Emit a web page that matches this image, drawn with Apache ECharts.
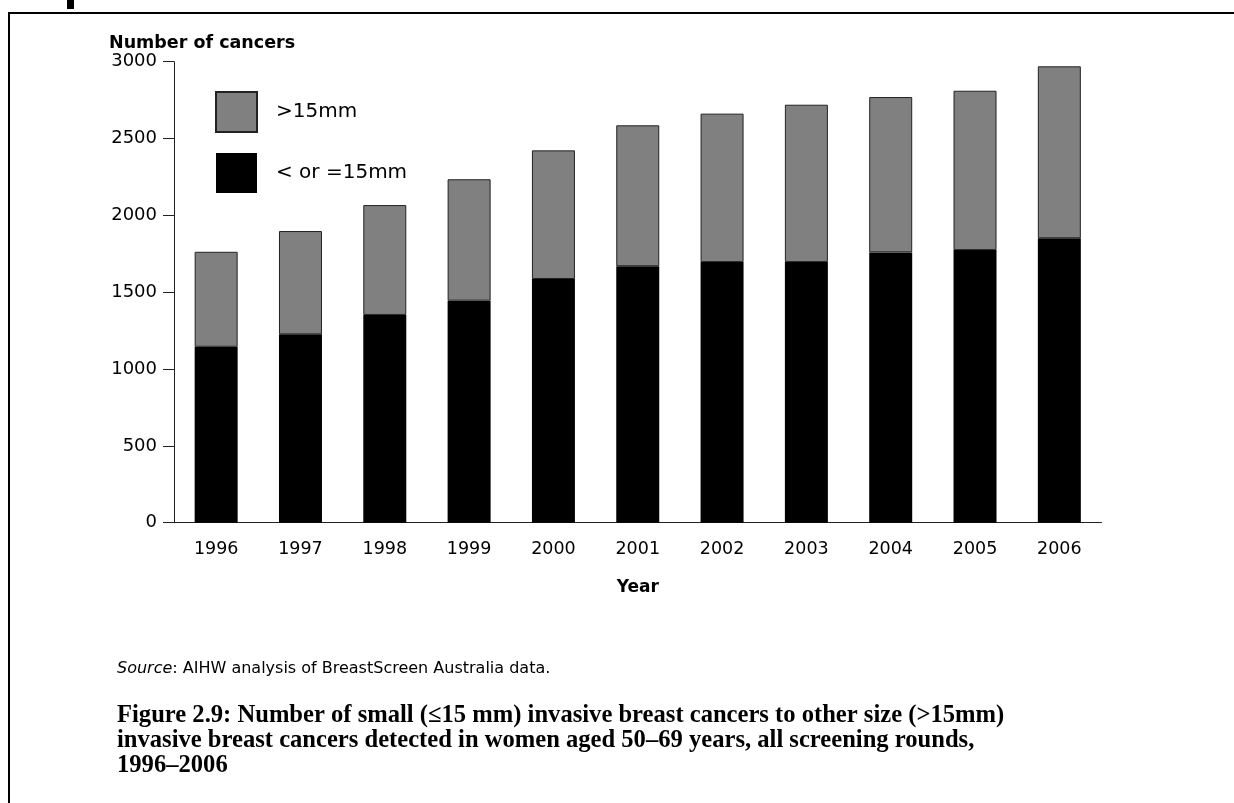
<!DOCTYPE html>
<html>
<head>
<meta charset="utf-8">
<script src="https://cdn.jsdelivr.net/npm/echarts@6/dist/echarts.min.js"></script>
<style>
html,body{margin:0;padding:0;background:#fff;}
#chart{width:1234px;height:803px;}
</style>
</head>
<body>
<div id="chart"></div>
<script>
const years = ['1996','1997','1998','1999','2000','2001','2002','2003','2004','2005','2006'];
const smallCancers = [1145, 1226, 1352, 1445, 1586, 1669, 1696, 1696, 1759, 1774, 1851];
const largeCancers = [618, 672, 715, 790, 837, 917, 966, 1024, 1011, 1037, 1119];
const yTicks = [0, 500, 1000, 1500, 2000, 2500, 3000];
const seriesNames = ['< or =15mm', '>15mm'];

const sans = 'DejaVu Sans';
const chart = echarts.init(document.getElementById('chart'), null, {renderer: 'canvas'});
chart.setOption({
  animation: false,
  backgroundColor: '#fff',
  title: [
    {text: 'Number of cancers', left: 109, top: 34, padding: 0,
     textStyle: {fontFamily: sans, fontWeight: 'bold', fontSize: 17.5, color: '#000'}},
    {text: '{i|Source}: AIHW analysis of BreastScreen Australia data.', left: 117, top: 661, padding: 0,
     textStyle: {fontFamily: sans, fontWeight: 'normal', fontSize: 16, color: '#000',
       rich: {i: {fontFamily: sans, fontStyle: 'italic', fontWeight: 'normal', fontSize: 16, color: '#000'}}}},
    {text: 'Figure 2.9: Number of small (\u226415 mm) invasive breast cancers to other size (>15mm)\ninvasive breast cancers detected in women aged 50\u201369 years, all screening rounds,\n1996\u20132006',
     left: 117, top: 703, padding: 0,
     textStyle: {fontFamily: 'Liberation Serif', fontWeight: 'bold', fontSize: 24.6, lineHeight: 25, color: '#000'}}
  ],
  graphic: [
    {type: 'polyline', shape: {points: [[9, 803], [9, 13], [1234, 13]]},
     style: {stroke: '#000', lineWidth: 2, fill: null}},
    {type: 'rect', shape: {x: 67, y: 0, width: 7, height: 9}, style: {fill: '#000'}}
  ],
  legend: {
    data: ['>15mm', '< or =15mm'],
    orient: 'vertical',
    left: 215, top: 91, padding: 0,
    itemWidth: 41, itemHeight: 40, itemGap: 20,
    icon: 'rect',
    textStyle: {fontFamily: sans, fontSize: 20, color: '#000', padding: [0, 0, 0, 14]}
  },
  grid: {left: 174, right: 132.5, top: 61.7, bottom: 280.3, containLabel: false},
  xAxis: {
    type: 'category', data: years,
    name: 'Year', nameLocation: 'middle', nameGap: 56,
    nameTextStyle: {fontFamily: sans, fontWeight: 'bold', fontSize: 17, color: '#000'},
    axisLine: {lineStyle: {color: '#222', width: 1}},
    axisTick: {alignWithLabel: true, length: 12, lineStyle: {color: '#222'}},
    axisLabel: {fontFamily: sans, fontSize: 17.5, color: '#000', margin: 18}
  },
  yAxis: {
    type: 'value', min: 0, max: 3000, interval: 500,
    axisLine: {show: true, lineStyle: {color: '#222', width: 1}},
    axisTick: {show: true, length: 11, lineStyle: {color: '#222'}},
    splitLine: {show: false},
    axisLabel: {fontFamily: sans, fontSize: 18, color: '#000', margin: 17,
      formatter: v => yTicks.includes(v) ? String(v) : ''}
  },
  series: [
    {name: seriesNames[0], type: 'bar', stack: 'total', data: smallCancers, barWidth: 43,
     itemStyle: {color: '#000'}},
    {name: seriesNames[1], type: 'bar', stack: 'total', data: largeCancers, barWidth: 43,
     itemStyle: {color: '#808080', borderColor: '#222', borderWidth: 1}}
  ]
});
</script>
</body>
</html>
